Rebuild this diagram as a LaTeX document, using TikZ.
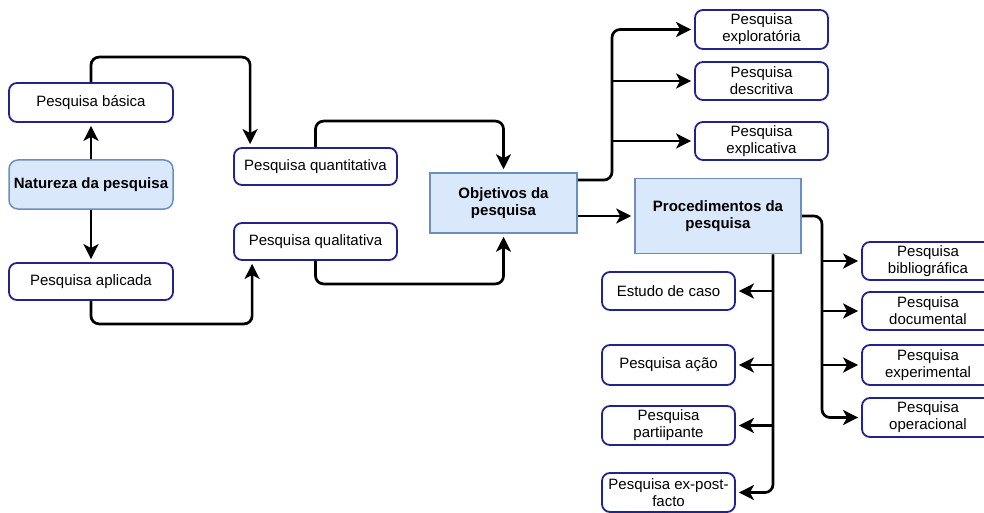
\documentclass[tikz,border=0pt]{standalone}
\usepackage{fontspec}
\setmainfont{Liberation Sans}
\usetikzlibrary{arrows.meta}
\definecolor{boxline}{RGB}{35,35,140}
\definecolor{keyfill}{HTML}{DAE8FC}
\definecolor{keyline}{HTML}{6C8EBF}
\tikzset{
  every node/.style={font=\fontsize{15}{17}\selectfont, align=center, inner sep=0pt},
  item/.style={draw=boxline, fill=white, line width=1.8pt, rounded corners=8pt,
               minimum width=#1, minimum height=38pt},
  item/.default=133pt,
  keybox/.style={draw=keyline, fill=keyfill, line width=1.5pt,
                 font=\fontsize{15}{17}\selectfont\bfseries},
  arr/.style={line width=2.7pt, rounded corners=8pt, shorten >=3pt,
              -{Stealth[length=15pt,width=15pt,inset=4pt]}}
}
\begin{document}
\begin{tikzpicture}[x=1pt,y=-1pt]
\useasboundingbox[fill=white] (0,0) rectangle (984,513);

% nature of the research
\node[item=164pt, minimum height=39pt] (bas) at (91,102.5) {Pesquisa básica};
\node[keybox, rounded corners=9pt, minimum width=164pt, minimum height=49pt] (nat) at (91,184.5) {Natureza da pesquisa};
\node[item=164pt, minimum height=37pt] (apl) at (91,281.5) {Pesquisa aplicada};

% approach
\node[item=163pt, minimum height=37pt] (quan) at (315.5,166.5) {Pesquisa quantitativa};
\node[item=163pt, minimum height=37pt] (qual) at (315.5,241.5) {Pesquisa qualitativa};

% objectives
\node[keybox, minimum width=147pt, minimum height=60pt] (obj) at (503.5,203) {Objetivos da\\pesquisa};
\node[item, minimum height=39pt] (expl) at (761.5,29.5) {Pesquisa\\exploratória};
\node[item] (desc) at (761.5,81) {Pesquisa\\descritiva};
\node[item] (expc) at (761.5,141) {Pesquisa\\explicativa};

% procedures
\node[keybox, minimum width=166pt, minimum height=75pt] (proc) at (718,216) {Procedimentos da\\pesquisa};
\node[item] (est) at (668.5,291) {Estudo de caso};
\node[item, minimum height=40pt] (acao) at (668.5,365) {Pesquisa ação};
\node[item, minimum height=39pt] (part) at (668.5,425.5) {Pesquisa\\partiipante};
\node[item, minimum height=39pt] (epf) at (668.5,492.5) {Pesquisa ex-post-\\facto};
\node[item=132pt] (bib) at (928,261) {Pesquisa\\bibliográfica};
\node[item=132pt] (doc) at (928,311) {Pesquisa\\documental};
\node[item=132pt, minimum height=40pt] (exper) at (928,365) {Pesquisa\\experimental};
\node[item=132pt, minimum height=39pt] (oper) at (928,417.5) {Pesquisa\\operacional};

% connectors on the left
\draw[arr] (nat.north) -- (bas.south);
\draw[arr] (nat.south) -- (apl.north);
\draw[arr] (bas.north) -- ++(0,-25) -| ([xshift=17pt]quan.north west);
\draw[arr] (apl.south) -- ++(0,23) -| ([xshift=19pt]qual.south west);
\draw[arr] (quan.north) -- ++(0,-26) -| (obj.north);
\draw[arr] (qual.south) -- ++(0,23) -| (obj.south);

% objectives fan-out
\coordinate (sp1) at (612,180);
\draw[arr] (obj.east |- sp1) -- (sp1) |- (expl.west);
\draw[arr] (sp1 |- desc.west) -- (desc.west);
\draw[arr] (sp1 |- expc.west) -- (expc.west);
\draw[arr] (obj.east |- proc.west) -- (proc.west);

% procedures fan-out, right side
\coordinate (sp2) at (822,216);
\draw[arr] (proc.east) -- (sp2) |- (oper.west);
\draw[arr] (sp2 |- bib.west) -- (bib.west);
\draw[arr] (sp2 |- doc.west) -- (doc.west);
\draw[arr] (sp2 |- exper.west) -- (exper.west);

% procedures fan-out, lower side
\coordinate (sp3) at ([xshift=55pt]proc.south);
\draw[arr] (sp3) |- (epf.east);
\draw[arr] (sp3 |- est.east) -- (est.east);
\draw[arr] (sp3 |- acao.east) -- (acao.east);
\draw[arr] (sp3 |- part.east) -- (part.east);
\end{tikzpicture}
\end{document}
